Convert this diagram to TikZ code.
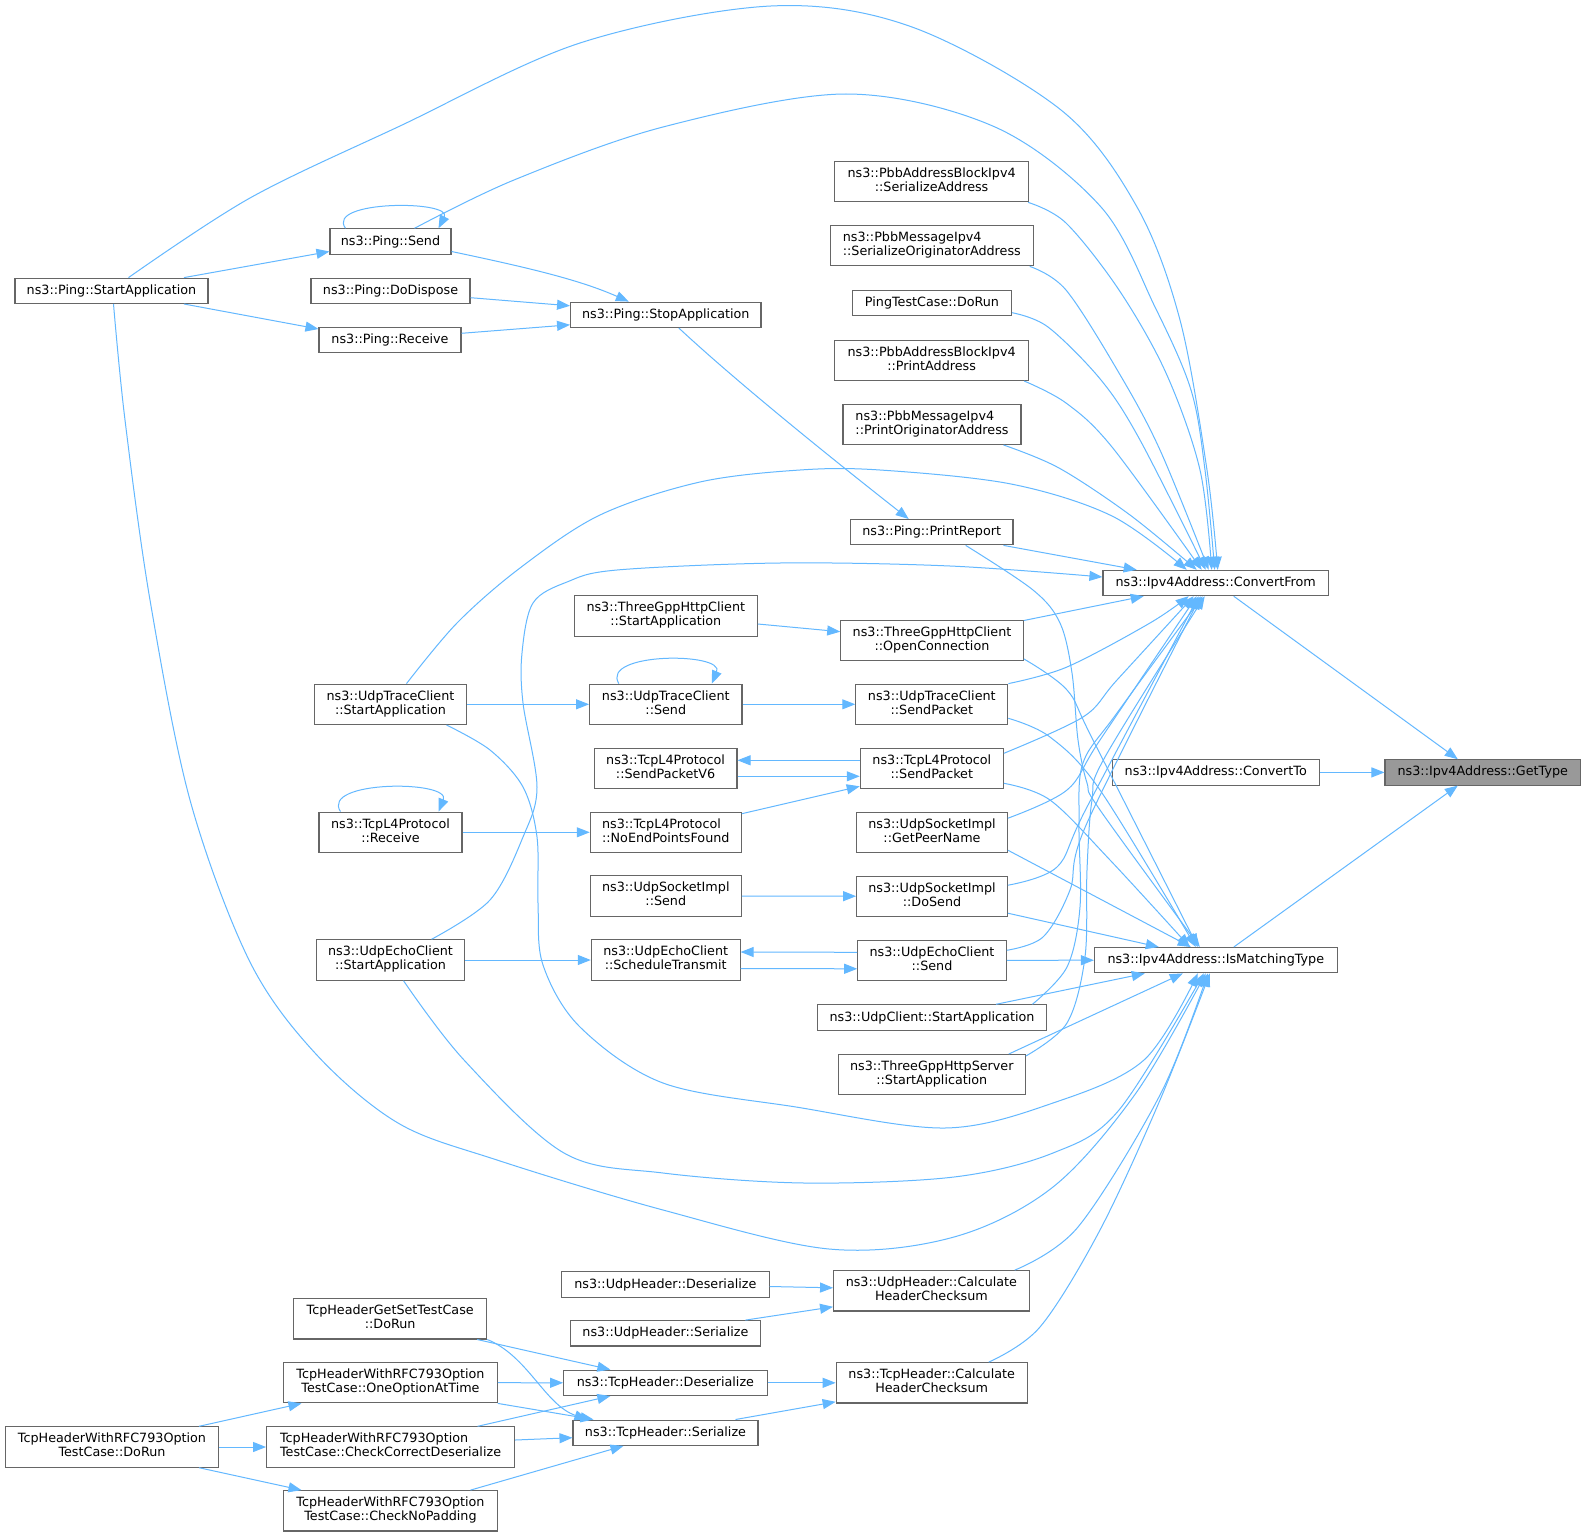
\documentclass[tikz,border=0pt]{standalone}
\usepackage{fontspec}
\setmainfont{DejaVu Sans}
\usetikzlibrary{arrows.meta}
\definecolor{edgeblue}{HTML}{63B8FF}
\definecolor{boxgray}{HTML}{666666}
\definecolor{hlgray}{HTML}{999999}
\newcommand\dvfont{\fontsize{12.75pt}{14pt}\selectfont}
\newcommand\twoline[2]{\begin{tabular}{@{}l@{}}#1\\\multicolumn{1}{@{}c@{}}{#2}\end{tabular}}
\begin{document}
\begin{tikzpicture}[x=1pt,y=-1pt,
  fn/.style={draw=boxgray, line width=1.1pt, fill=white, inner sep=0pt, font=\dvfont, minimum height=25.3pt},
  fn2/.style={fn, minimum height=40.3pt},
  e/.style={draw=edgeblue, line width=1pt, -{Triangle[length=13pt,width=10pt]}},
  sm/.style={smooth, tension=0.55}
]
\useasboundingbox (0,0) rectangle (1585,1536);
\fill[white] (0,0) rectangle (1585,1536);

% ---------- nodes ----------
\node[fn, fill=hlgray, minimum width=195.6pt] (gettype) at (1482.8,772.4) {ns3::Ipv4Address::GetType};
\node[fn, minimum width=207.3pt] (convto) at (1215.8,772.4) {ns3::Ipv4Address::ConvertTo};
\node[fn, minimum width=225.5pt] (convfrom) at (1215.7,583) {ns3::Ipv4Address::ConvertFrom};
\node[fn, minimum width=242.7pt] (ismatch) at (1215.8,960.2) {ns3::Ipv4Address::IsMatchingType};

\node[fn2, minimum width=194pt] (pbbsa) at (931.6,181.7) {\twoline{ns3::PbbAddressBlockIpv4}{::SerializeAddress}};
\node[fn2, minimum width=202.8pt] (pbbsoa) at (931.8,245.7) {\twoline{ns3::PbbMessageIpv4}{::SerializeOriginatorAddress}};
\node[fn, minimum width=159pt] (pingtc) at (932,302.7) {PingTestCase::DoRun};
\node[fn2, minimum width=194pt] (pbbpa) at (931.6,360.3) {\twoline{ns3::PbbAddressBlockIpv4}{::PrintAddress}};
\node[fn2, minimum width=178pt] (pbbpoa) at (932,424.3) {\twoline{ns3::PbbMessageIpv4}{::PrintOriginatorAddress}};
\node[fn, minimum width=162.5pt] (printreport) at (931.7,532.2) {ns3::Ping::PrintReport};
\node[fn2, minimum width=182.5pt] (openconn) at (932,640.2) {\twoline{ns3::ThreeGppHttpClient}{::OpenConnection}};
\node[fn2, minimum width=152pt] (utcsendpkt) at (931.8,704.3) {\twoline{ns3::UdpTraceClient}{::SendPacket}};
\node[fn2, minimum width=143pt] (tcpsendpkt) at (931.8,768.3) {\twoline{ns3::TcpL4Protocol}{::SendPacket}};
\node[fn2, minimum width=150.7pt] (getpeer) at (932,832.2) {\twoline{ns3::UdpSocketImpl}{::GetPeerName}};
\node[fn2, minimum width=150.7pt] (dosend) at (932,896.2) {\twoline{ns3::UdpSocketImpl}{::DoSend}};
\node[fn2, minimum width=148.5pt] (uecsend) at (932,960.3) {\twoline{ns3::UdpEchoClient}{::Send}};
\node[fn, minimum width=229.7pt] (udpclient) at (932,1017.5) {ns3::UdpClient::StartApplication};
\node[fn2, minimum width=187pt] (httpserver) at (931.8,1074.7) {\twoline{ns3::ThreeGppHttpServer}{::StartApplication}};
\node[fn2, minimum width=195.6pt] (udpcsum) at (931.4,1290.8) {\twoline{ns3::UdpHeader::Calculate}{HeaderChecksum}};
\node[fn2, minimum width=191pt] (tcpcsum) at (931.7,1382.8) {\twoline{ns3::TcpHeader::Calculate}{HeaderChecksum}};

\node[fn, minimum width=190.4pt] (stopapp) at (665.8,314.8) {ns3::Ping::StopApplication};
\node[fn2, minimum width=183pt] (httpclientstart) at (665.8,616) {\twoline{ns3::ThreeGppHttpClient}{::StartApplication}};
\node[fn2, minimum width=152.3pt] (utcsend) at (665.8,704.3) {\twoline{ns3::UdpTraceClient}{::Send}};
\node[fn2, minimum width=142.7pt] (sendv6) at (665.6,768.3) {\twoline{ns3::TcpL4Protocol}{::SendPacketV6}};
\node[fn2, minimum width=151pt] (noendpoints) at (665.8,832.3) {\twoline{ns3::TcpL4Protocol}{::NoEndPointsFound}};
\node[fn2, minimum width=151pt] (usisend) at (665.8,896) {\twoline{ns3::UdpSocketImpl}{::Send}};
\node[fn2, minimum width=148.7pt] (schedtx) at (665.7,960) {\twoline{ns3::UdpEchoClient}{::ScheduleTransmit}};
\node[fn, minimum width=207.5pt] (udpdeser) at (665.4,1284.5) {ns3::UdpHeader::Deserialize};
\node[fn, minimum width=190.3pt] (udpser) at (665.4,1333.3) {ns3::UdpHeader::Serialize};
\node[fn, minimum width=203.5pt] (tcpdeser) at (665.4,1382.8) {ns3::TcpHeader::Deserialize};
\node[fn, minimum width=185pt] (tcpser) at (665.5,1432.7) {ns3::TcpHeader::Serialize};

\node[fn, minimum width=121pt] (pingsend) at (390.5,241.5) {ns3::Ping::Send};
\node[fn, minimum width=159pt] (dodispose) at (390.5,291) {ns3::Ping::DoDispose};
\node[fn, minimum width=142pt] (pingrecv) at (390,340) {ns3::Ping::Receive};
\node[fn2, minimum width=152.4pt] (utcstart) at (390.5,704.3) {\twoline{ns3::UdpTraceClient}{::StartApplication}};
\node[fn2, minimum width=143pt] (tcprecv) at (390.5,832.3) {\twoline{ns3::TcpL4Protocol}{::Receive}};
\node[fn2, minimum width=148.4pt] (uecstart) at (390.5,960) {\twoline{ns3::UdpEchoClient}{::StartApplication}};
\node[fn2, minimum width=193pt] (getsettc) at (390.2,1318.8) {\twoline{TcpHeaderGetSetTestCase}{::DoRun}};
\node[fn2, minimum width=213.5pt] (oneopt) at (390.5,1382.7) {\twoline{TcpHeaderWithRFC793Option}{TestCase::OneOptionAtTime}};
\node[fn2, minimum width=248pt] (checkcorrect) at (390.6,1447) {\twoline{TcpHeaderWithRFC793Option}{TestCase::CheckCorrectDeserialize}};
\node[fn2, minimum width=213.5pt] (checknopad) at (390.5,1510.8) {\twoline{TcpHeaderWithRFC793Option}{TestCase::CheckNoPadding}};

\node[fn, minimum width=193pt] (pingstart) at (111.5,290.8) {ns3::Ping::StartApplication};
\node[fn2, minimum width=213.5pt] (rfcdorun) at (112,1447) {\twoline{TcpHeaderWithRFC793Option}{TestCase::DoRun}};

% ---------- edges into GetType ----------
\draw[e] ([xshift=18]convfrom.south) -- ([xshift=-25]gettype.north);
\draw[e] (convto.east) -- (gettype.west);
\draw[e] ([xshift=18]ismatch.north) -- ([xshift=-25]gettype.south);

% ---------- edges into ConvertFrom (top) ----------
\draw[e] plot[sm] coordinates {([xshift=17]pingstart.north) (250,198) (400,126) (580,43) (771,6) (912,27) (1061,110) (1137,207) (1180,320) (1207,470) ([xshift=2]convfrom.north)};
\draw[e] plot[sm] coordinates {([xshift=24]pingsend.north) (514,180) (663,127) (846,94) (995,127) (1101,207) (1155,307) (1191,390) (1205,470) ([xshift=-1]convfrom.north)};
\draw[e] plot[sm] coordinates {([xshift=-1]pbbsa.south east) (1066,223) (1119,290) (1166,373) (1200,470) ([xshift=-4]convfrom.north)};
\draw[e] plot[sm] coordinates {([xshift=-4]pbbsoa.south east) (1066,290) (1119,373) (1160,450) ([xshift=-7]convfrom.north)};
\draw[e] plot[sm] coordinates {([yshift=-10]pingtc.east) (1048,327) (1101,380) (1140,440) ([xshift=-10]convfrom.north)};
\draw[e] plot[sm] coordinates {([xshift=-5]pbbpa.south east) (1066,403) (1112,447) ([xshift=-14]convfrom.north)};
\draw[e] plot[sm] coordinates {([xshift=-18]pbbpoa.south east) (1059,468) (1130,515) ([xshift=-19]convfrom.north)};
\draw[e] plot[sm] coordinates {([xshift=16]utcstart.north) (457,623) (520,568) (600,515) (700,482) (800,470) (880,470) (1011,484) (1112,516) ([xshift=-29]convfrom.north)};
\draw[e] ([xshift=-10]printreport.south east) -- ([xshift=-79]convfrom.north);
\draw[e] plot[sm] coordinates {([xshift=41]uecstart.north) (490,900) (523,837) (537,787) (523,703) (522,653) (533,603) (567,582) (617,570) (780,563) (950,566) ([yshift=6]convfrom.west)};

% ---------- edges into ConvertFrom (bottom) ----------
\draw[e] ([yshift=-1]openconn.north east) -- ([xshift=-72]convfrom.south);
\draw[e] plot[sm] coordinates {(utcsendpkt.north east) (1067,667) (1150,623) ([xshift=-27]convfrom.south)};
\draw[e] plot[sm] coordinates {([yshift=15]tcpsendpkt.east) (1083,717) (1117,680) ([xshift=-22]convfrom.south)};
\draw[e] plot[sm] coordinates {([yshift=14]getpeer.east) (1067,790) (1100,740) ([xshift=-19]convfrom.south)};
\draw[e] plot[sm] coordinates {([yshift=11]dosend.east) (1057,867) (1087,807) ([xshift=-17]convfrom.south)};
\draw[e] plot[sm] coordinates {([yshift=10]uecsend.east) (1043,937) (1070,890) (1087,823) ([xshift=-15]convfrom.south)};
\draw[e] plot[sm] coordinates {([xshift=-15]udpclient.north east) (1067,967) (1080,907) (1079,823) (1083,763) (1117,713) ([xshift=-13]convfrom.south)};
\draw[e] plot[sm] coordinates {([yshift=-2]httpserver.north east) (1067,1023) (1085,957) (1087,870) (1092,800) (1105,757) ([xshift=-11]convfrom.south)};

% ---------- edges into IsMatchingType (top) ----------
\draw[e] plot[sm] coordinates {([xshift=34]printreport.south) (1033,590) (1060,623) (1072,673) (1078,740) (1087,783) (1100,810) ([xshift=-16]ismatch.north)};
\draw[e] plot[sm] coordinates {([yshift=2]openconn.south east) (1067,690) (1093,740) ([xshift=-18]ismatch.north)};
\draw[e] plot[sm] coordinates {([yshift=-14]utcsendpkt.east) (1050,737) (1100,790) ([xshift=-20]ismatch.north)};
\draw[e] plot[sm] coordinates {([yshift=-15]tcpsendpkt.east) (1050,800) (1110,860) ([xshift=-26]ismatch.north)};
\draw[e] ([yshift=-18]getpeer.east) -- ([xshift=-25]ismatch.north);
\draw[e] ([yshift=-17]dosend.east) -- ([xshift=-57]ismatch.north);
\draw[e] (uecsend.east) -- (ismatch.west);
\draw[e] ([xshift=64]udpclient.north) -- ([xshift=-71]ismatch.south);
\draw[e] ([xshift=77]httpserver.north) -- ([xshift=-33]ismatch.south);

% ---------- edges into IsMatchingType (bottom) ----------
\draw[e] plot[sm] coordinates {([xshift=2]pingstart.south) (125,420) (150,600) (190,800) (249,960) (315,1053) (398,1123) (497,1160) (663,1210) (829,1249) (954,1237) (1053,1187) (1136,1093) ([xshift=-10]ismatch.south)};
\draw[e] plot[sm] coordinates {([xshift=56]utcstart.south) (490,750) (523,787) (537,837) (538,903) (543,965) (580,1027) (663,1083) (796,1107) (945,1128) (1053,1103) (1144,1060) ([xshift=-18]ismatch.south)};
\draw[e] plot[sm] coordinates {([xshift=13]uecstart.south) (464,1060) (564,1153) (663,1173) (804,1183) (954,1177) (1053,1153) (1119,1110) ([xshift=-12]ismatch.south)};
\draw[e] plot[sm] coordinates {([xshift=-15]udpcsum.north east) (1078,1227) (1161,1093) ([xshift=-8]ismatch.south)};
\draw[e] plot[sm] coordinates {([xshift=57]tcpcsum.north) (1040,1327) (1100,1230) (1160,1100) ([xshift=-6]ismatch.south)};

% ---------- Ping group ----------
\draw[e] ([xshift=72.5]pingstart.north) -- ([yshift=-10]pingsend.west);
\draw[e] ([xshift=72.5]pingstart.south) -- ([yshift=11]pingrecv.west);
\draw[e] ([xshift=-45]pingsend.north) .. controls (325,200) and (453,200) .. ([xshift=48]pingsend.north);
\draw[e] ([yshift=-10]pingsend.east) .. controls (530,268) and (580,280) .. ([xshift=-37]stopapp.north);
\draw[e] ([yshift=-6.7]dodispose.east) -- ([yshift=9]stopapp.west);
\draw[e] ([yshift=6.7]pingrecv.east) -- ([yshift=-10]stopapp.west);
\draw[e] ([xshift=13]stopapp.south) .. controls (740,385) and (840,465) .. ([xshift=-23]printreport.north);

% ---------- middle group ----------
\draw[e] ([yshift=-8]httpclientstart.east) -- ([yshift=8.5]openconn.west);
\draw[e] (utcstart.east) -- (utcsend.west);
\draw[e] ([xshift=-47]utcsend.north) .. controls (600,652) and (725,652) .. ([xshift=46]utcsend.north);
\draw[e] (utcsend.east) -- (utcsendpkt.west);
\draw[e] ([yshift=8]tcpsendpkt.west) -- ([yshift=8]sendv6.east);
\draw[e] ([yshift=-8]sendv6.east) -- ([yshift=-8]tcpsendpkt.west);
\draw[e] ([yshift=18.6]noendpoints.east) -- ([yshift=-18]tcpsendpkt.west);
\draw[e] (tcprecv.east) -- (noendpoints.west);
\draw[e] ([xshift=-50]tcprecv.north) .. controls (320,780) and (451.5,780) .. ([xshift=48]tcprecv.north);
\draw[e] (usisend.east) -- (dosend.west);
\draw[e] (uecstart.east) -- (schedtx.west);
\draw[e] ([yshift=8]uecsend.west) -- ([yshift=8]schedtx.east);
\draw[e] ([yshift=-8.5]schedtx.east) -- ([yshift=-8.5]uecsend.west);

% ---------- header group ----------
\draw[e] ([yshift=-2]udpdeser.east) -- ([yshift=3]udpcsum.west);
\draw[e] ([xshift=80]udpser.north) -- ([yshift=-16]udpcsum.west);
\draw[e] (tcpdeser.east) -- (tcpcsum.west);
\draw[e] ([xshift=70]tcpser.north) -- ([yshift=-19]tcpcsum.west);
\draw[e] ([xshift=87]getsettc.south) -- ([xshift=-55]tcpdeser.north);
\draw[e] (getsettc.south east) .. controls (528,1356) and (545,1405) .. ([xshift=-78]tcpser.north);
\draw[e] (oneopt.east) -- (tcpdeser.west);
\draw[e] (oneopt.south east) -- ([xshift=-72]tcpser.north);
\draw[e] ([xshift=87]checkcorrect.north) -- ([xshift=-55]tcpdeser.south);
\draw[e] ([yshift=7]checkcorrect.east) -- ([yshift=-5]tcpser.west);
\draw[e] ([xshift=80]checknopad.north) -- ([xshift=-42]tcpser.south);
\draw[e] ([xshift=87]rfcdorun.north) -- ([xshift=-89]oneopt.south);
\draw[e] (rfcdorun.east) -- (checkcorrect.west);
\draw[e] ([xshift=87]rfcdorun.south) -- ([xshift=-89]checknopad.north);
\end{tikzpicture}
\end{document}
